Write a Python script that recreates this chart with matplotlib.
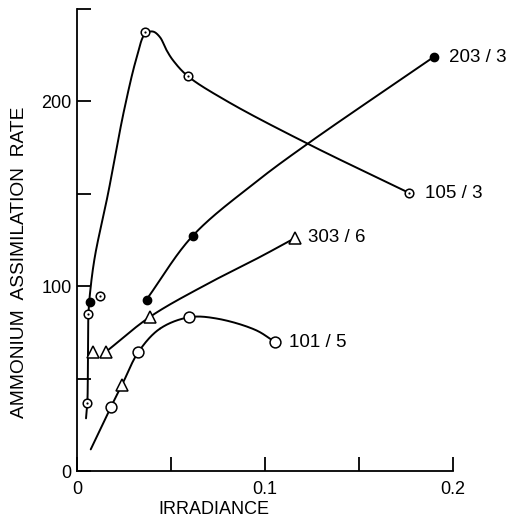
import numpy as np
import matplotlib
matplotlib.use("Agg")
import matplotlib.pyplot as plt

plt.rcParams['font.family'] = ['Liberation Sans', 'DejaVu Sans']

# ---- data ----
# 105/3 : dotted circles
s105_x = [0.0053, 0.0060, 0.0122, 0.0362, 0.0589, 0.1768]
s105_y = [36.6, 84.7, 94.6, 237.3, 213.7, 150.4]
c105_x = [0.0048, 0.0055, 0.0061, 0.0070, 0.0095, 0.0165, 0.0250, 0.0318, 0.0362, 0.0404, 0.0441, 0.0477, 0.0511, 0.0589, 0.0800, 0.1227, 0.1768]
c105_y = [28.5, 36.6, 85.0, 97.0, 116.0, 150.0, 195.0, 224.0, 236.5, 237.8, 234.8, 227.6, 222.2, 213.7, 200.0, 177.1, 150.4]

# 203/3 : filled circles
s203_x = [0.0069, 0.0370, 0.0615, 0.1897]
s203_y = [91.5, 92.8, 127.2, 224.0]
c203_x = [0.0370, 0.0615, 0.0952, 0.1227, 0.1897]
c203_y = [92.8, 127.2, 156.4, 177.1, 224.0]

# 303/6 : triangles
s303_x = [0.0087, 0.0154, 0.0239, 0.0388, 0.1160]
s303_y = [64.5, 64.5, 46.5, 83.4, 126.1]
c303_x = [0.0154, 0.0388, 0.0680, 0.0973, 0.1160]
c303_y = [64.5, 83.4, 100.5, 115.8, 126.1]

# 101/5 : open circles
s101_x = [0.0181, 0.0326, 0.0597, 0.1055]
s101_y = [34.8, 64.3, 83.2, 69.6]
c101_x = [0.0073, 0.0181, 0.0239, 0.0326, 0.0441, 0.0597, 0.0743, 0.0952, 0.1055]
c101_y = [11.7, 34.8, 46.5, 64.3, 77.0, 83.2, 82.5, 76.2, 69.6]

series_labels = ["203 / 3", "105 / 3", "303 / 6", "101 / 5"]
x_ticks = [0, 0.05, 0.1, 0.15, 0.2]
x_ticklabels = ["0", "", "0.1", "", "0.2"]
y_ticks = [0, 50, 100, 150, 200, 250]
y_ticklabels = ["0", "", "100", "", "200", ""]

XMAX, YMAX = 0.2, 250


def smooth(xs, ys, n=40):
    # centripetal Catmull-Rom through knots, computed in normalized space
    sx, sy = 376.0 / XMAX, 462.0 / YMAX
    P = np.column_stack([np.asarray(xs) * sx, np.asarray(ys) * sy])
    P = np.vstack([2 * P[0] - P[1], P, 2 * P[-1] - P[-2]])
    out = []
    for i in range(1, len(P) - 2):
        p0, p1, p2, p3 = P[i - 1], P[i], P[i + 1], P[i + 2]
        t0 = 0.0
        t1 = t0 + np.linalg.norm(p1 - p0) ** 0.5 + 1e-9
        t2 = t1 + np.linalg.norm(p2 - p1) ** 0.5 + 1e-9
        t3 = t2 + np.linalg.norm(p3 - p2) ** 0.5 + 1e-9
        t = np.linspace(t1, t2, n)[:, None]
        A1 = (t1 - t) / (t1 - t0) * p0 + (t - t0) / (t1 - t0) * p1
        A2 = (t2 - t) / (t2 - t1) * p1 + (t - t1) / (t2 - t1) * p2
        A3 = (t3 - t) / (t3 - t2) * p2 + (t - t2) / (t3 - t2) * p3
        B1 = (t2 - t) / (t2 - t0) * A1 + (t - t0) / (t2 - t0) * A2
        B2 = (t3 - t) / (t3 - t1) * A2 + (t - t1) / (t3 - t1) * A3
        C = (t2 - t) / (t2 - t1) * B1 + (t - t1) / (t2 - t1) * B2
        out.append(C)
    C = np.vstack(out)
    return C[:, 0] / sx, C[:, 1] / sy


fig = plt.figure(figsize=(5.12, 5.21), dpi=100)
ax = fig.add_axes([77 / 512, 1 - 471 / 521, 376 / 512, 462 / 521])
ax.set_xlim(0, XMAX)
ax.set_ylim(0, YMAX)

lw = 1.4
for cx, cy in [(c105_x, c105_y), (c203_x, c203_y), (c303_x, c303_y), (c101_x, c101_y)]:
    xx, yy = smooth(cx, cy)
    ax.plot(xx, yy, color='black', lw=lw, solid_capstyle='round', zorder=2, clip_on=False)

# markers
ax.plot(s105_x, s105_y, 'o', ms=6.2, mfc='white', mec='black', mew=1.1, zorder=3, clip_on=False)
ax.plot(s105_x, s105_y, 'o', ms=1.6, mfc='black', mec='black', mew=0, zorder=4, clip_on=False)
ax.plot(s203_x, s203_y, 'o', ms=6.0, mfc='black', mec='black', zorder=3, clip_on=False)
ax.plot(s303_x, s303_y, '^', ms=8.5, mfc='white', mec='black', mew=1.1, zorder=3, clip_on=False)
ax.plot(s101_x, s101_y, 'o', ms=7.8, mfc='white', mec='black', mew=1.1, zorder=3, clip_on=False)

# series labels
ends = [(s203_x[-1], s203_y[-1], 11), (s105_x[-1], s105_y[-1], 11),
        (s303_x[-1], s303_y[-1], 9.5), (s101_x[-1], s101_y[-1], 9.5)]
for lab, (ex, ey, dx) in zip(series_labels, ends):
    ax.annotate(lab, (ex, ey), xytext=(dx, 0), textcoords='offset points',
                ha='left', va='center', fontsize=13.5, annotation_clip=False)

for s in ['top', 'right']:
    ax.spines[s].set_visible(False)
for s in ['left', 'bottom']:
    ax.spines[s].set_linewidth(1.3)

ax.set_xticks(x_ticks)
ax.set_xticklabels(x_ticklabels)
ax.set_yticks(y_ticks)
ax.set_yticklabels(y_ticklabels)
ax.tick_params(direction='in', length=10, width=1.3, labelsize=13, pad=4)
ax.tick_params(axis='x', pad=7)

fig.text(214 / 512, 1 - 509 / 521, "IRRADIANCE", ha='center', va='center', fontsize=13)
fig.text(20 / 512, 1 - 262 / 521, "AMMONIUM  ASSIMILATION  RATE", ha='center', va='center',
         rotation=90, fontsize=13.8)

fig.savefig("out.png", dpi=100)
